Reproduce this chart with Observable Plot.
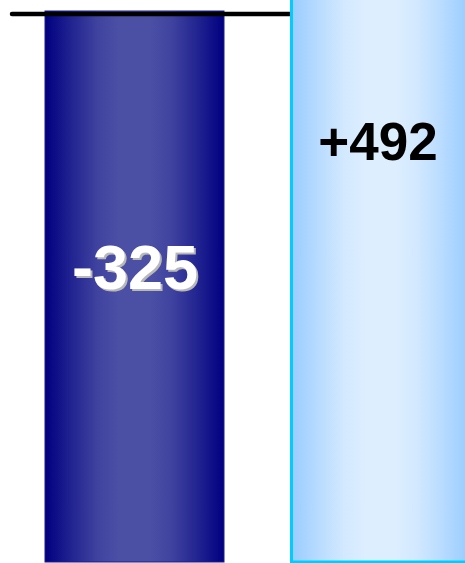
<!DOCTYPE html>
<html>
<head>
<meta charset="utf-8">
<script src="https://cdn.jsdelivr.net/npm/d3@7"></script>
<script src="https://cdn.jsdelivr.net/npm/@observablehq/plot@0.6"></script>
<style>
  html, body { margin: 0; padding: 0; background: #fff; }
  svg { display: block; }
</style>
</head>
<body>
<div id="chart"></div>
<script>
// Data
const categories = ["A", "B"];
const changes = [-325, 492];
const labels = ["-325", "+492"];

// Waterfall bases: each bar starts where the previous one ended
let running = 0;
const data = categories.map((c, i) => {
  const y1 = running;
  running += changes[i];
  return { cat: c, y1, y2: running, label: labels[i], value: changes[i] };
});
const leftBar = data.filter(d => d.value < 0);
const rightBar = data.filter(d => d.value > 0);

const defs = () => {
  const g = d3.create("svg:defs");
  const grad = (id, edge, mid) => {
    const lg = g.append("linearGradient").attr("id", id)
      .attr("x1", 0).attr("x2", 1).attr("y1", 0).attr("y2", 0);
    const mix = d3.interpolateRgb(edge, mid);
    [[0, 0], [0.15, 0.45], [0.3, 0.85], [0.42, 1], [0.58, 1], [0.7, 0.85], [0.85, 0.45], [1, 0]]
      .forEach(([o, t]) => lg.append("stop").attr("offset", o).attr("stop-color", mix(t)));
  };
  grad("navyGrad", "#000080", "#4c50a5");
  grad("skyGrad", "#99ccff", "#ddeeff");
  return g.node();
};

const font = "'Liberation Sans', Arial, sans-serif";

const chart = Plot.plot({
  width: 465,
  height: 563,
  margin: 0,
  x: { type: "band", domain: categories, range: [45, 469], paddingInner: 0.2694, paddingOuter: 0, axis: null },
  y: { domain: [-325, 0], range: [562, 11], axis: null },
  marks: [
    defs,
    Plot.barY(leftBar, { x: "cat", y1: "y1", y2: "y2", fill: "url(#navyGrad)", stroke: "#1c1c88", strokeWidth: 1, clip: true }),
    Plot.ruleY([0], { stroke: "#000", strokeWidth: 4.5, strokeLinecap: "round", insetLeft: 12, insetRight: 174, dy: 2.5 }),
    Plot.barY(rightBar, { x: "cat", y1: "y1", y2: "y2", fill: "url(#skyGrad)", stroke: "#00ccff", strokeWidth: 3, insetLeft: 1.5, clip: true }),
    // left label with shadow
    Plot.text(leftBar, { x: "cat", y: d => d.value / 2, text: "label", fill: "#b8b8b8", fontSize: 63, fontWeight: "bold", fontFamily: font, dx: 2, dy: -16 }),
    Plot.text(leftBar, { x: "cat", y: d => d.value / 2, text: "label", fill: "#ffffff", fontSize: 63, fontWeight: "bold", fontFamily: font, dx: 0, dy: -18 }),
    // right label
    Plot.text(rightBar, { x: "cat", y: d => d.y1 + 325, text: "label", fill: "#000", fontSize: 53, fontWeight: "bold", fontFamily: font, dx: -2, dy: 132 })
  ]
});
document.getElementById("chart").appendChild(chart);
</script>
</body>
</html>
